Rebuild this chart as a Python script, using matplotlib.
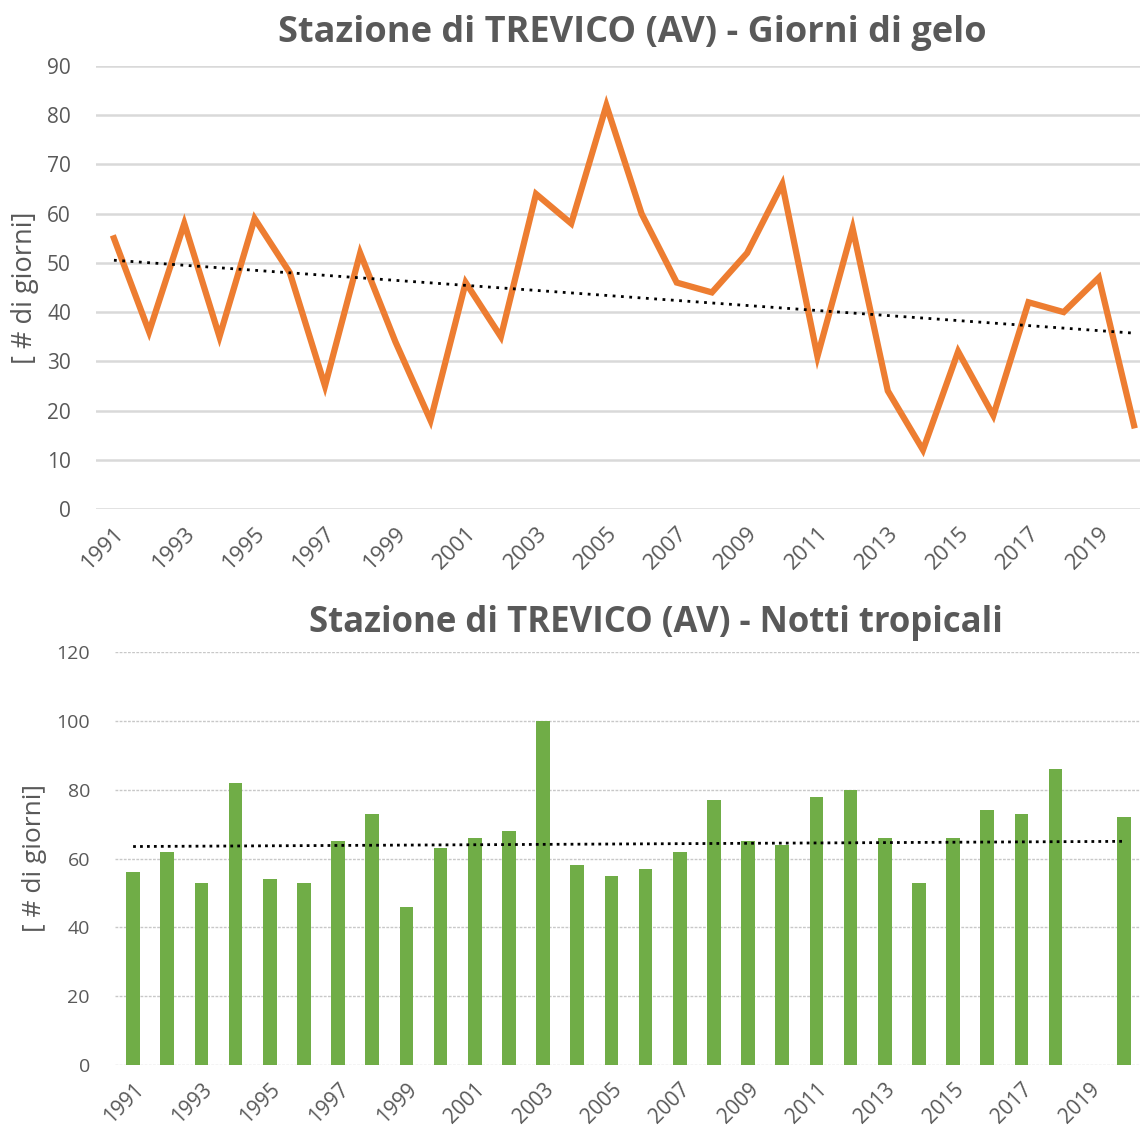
import numpy as np
import matplotlib.pyplot as plt

years = np.arange(1991, 2021)
gelo = [55, 36, 58, 35, 59, 48, 25, 52, 34, 18, 46, 35, 64, 58, 82,
        60, 46, 44, 52, 66, 31, 57, 24, 12, 32, 19, 42, 40, 47, 17]
notti = [56, 62, 53, 82, 54, 53, 65, 73, 46, 63, 66, 68, 100, 58, 55,
         57, 62, 77, 65, 64, 78, 80, 66, 53, 66, 74, 73, 86, np.nan, 72]
tick_years = list(range(1991, 2021, 2))

GRAY = "#595959"
FONT = "Open Sans"

W, H = 1140, 1131
fig = plt.figure(figsize=(W / 100, H / 100), dpi=100)


def px_axes(x0, y0, x1, y1):
    return fig.add_axes([x0 / W, 1 - y1 / H, (x1 - x0) / W, (y1 - y0) / H])


# --- top: giorni di gelo ---
ax1 = px_axes(96, 66, 1140, 509)
ax1.plot(years, gelo, color="#ED7D31", lw=4.5, solid_joinstyle="miter", zorder=3)
c = np.polyfit(years, gelo, 1)
ax1.plot(years, np.polyval(c, years), color="black", lw=2, ls=(0, (1, 2)), zorder=4)
ax1.set_xlim(1990.49, 2020.17)
ax1.set_ylim(0, 90)
ax1.set_yticks(range(0, 91, 10))
ax1.grid(axis="y", color="#D9D9D9", lw=1.8)
ax1.set_axisbelow(True)
ax1.set_ylabel("[ # di giorni]", fontsize=19.5, color=GRAY, family=FONT)
ax1.yaxis.set_label_coords((39 - 96) / 1044, 0.5)

# --- bottom: notti tropicali ---
ax2 = px_axes(115, 652, 1140, 1065)
ax2.bar(years, np.nan_to_num(notti), width=0.4, color="#70AD47", zorder=3)
notti_fit = np.nan_to_num(notti)
c2 = np.polyfit(years, notti_fit, 1)
ax2.plot(years, np.polyval(c2, years), color="black", lw=2, ls=(0, (1, 1.5)), zorder=4)
ax2.set_xlim(1990.47, 2020.47)
ax2.set_ylim(0, 120)
ax2.set_yticks(range(0, 121, 20))
ax2.grid(axis="y", color="#C8C8C8", lw=1.0, ls=(0, (2, 1)))
ax2.set_axisbelow(True)
ax2.set_ylabel("[ # di giorni]", fontsize=19, color=GRAY, family=FONT)
ax2.yaxis.set_label_coords((47 - 115) / 1025, 0.5)

for ax, fs, xfs in ((ax1, 15, 16), (ax2, 14, 15)):
    for s in ax.spines.values():
        s.set_visible(False)
    ax.set_xticks(tick_years)
    ax.set_xticklabels([str(y) for y in tick_years], rotation=45, ha="right",
                       rotation_mode="anchor", family=FONT, fontsize=xfs)
    ax.tick_params(axis="both", length=0, colors=GRAY)
    ax.tick_params(axis="y", pad=18, labelsize=fs)
    ax.tick_params(axis="x", pad=10)
    for t in ax.get_yticklabels():
        t.set_family(FONT)

fig.text(632 / W, 1 - 33 / H, "Stazione di TREVICO (AV) - Giorni di gelo",
         ha="center", va="center", fontsize=26, fontweight="bold", color=GRAY, family=FONT)
fig.text(656 / W, 1 - 623 / H, "Stazione di TREVICO (AV) - Notti tropicali",
         ha="center", va="center", fontsize=25, fontweight="bold", color=GRAY, family=FONT)

fig.savefig("out.png", dpi=100)
